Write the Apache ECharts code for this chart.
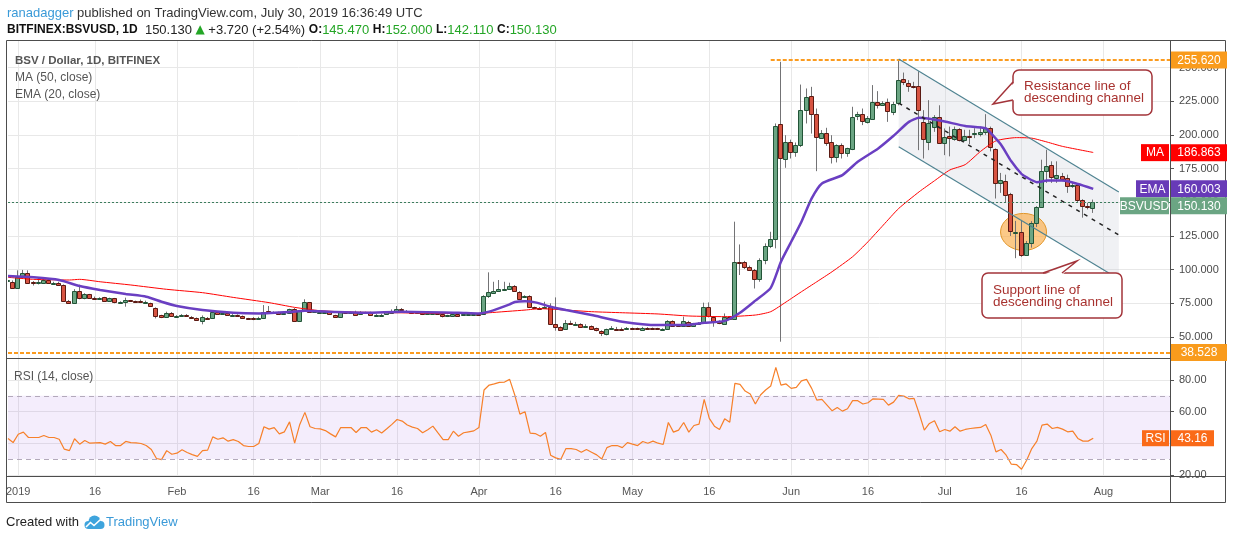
<!DOCTYPE html>
<html>
<head>
<meta charset="utf-8">
<title>BSV / Dollar, 1D, BITFINEX</title>
<script src="https://cdn.jsdelivr.net/npm/echarts/dist/echarts.min.js"></script>
<style>
  html, body { margin: 0; padding: 0; background: #fff; }
  #chart { width: 1234px; height: 540px; }
</style>
</head>
<body>
<div id="chart"></div>
<script>
const FONT = '"Liberation Sans", Arial, "DejaVu Sans", sans-serif';

// one category per day, 2018-12-30 .. 2019-08-14
const dates = [];
for (let t = Date.UTC(2018, 11, 30); t <= Date.UTC(2019, 7, 14); t += 86400000) {
  dates.push(new Date(t).toISOString().slice(0, 10));
}

const tickLabels = [
  ['2019-01-01', '2019'], ['2019-01-16', '16'], ['2019-02-01', 'Feb'], ['2019-02-16', '16'],
  ['2019-03-01', 'Mar'], ['2019-03-16', '16'], ['2019-04-01', 'Apr'], ['2019-04-16', '16'],
  ['2019-05-01', 'May'], ['2019-05-16', '16'], ['2019-06-01', 'Jun'], ['2019-06-16', '16'],
  ['2019-07-01', 'Jul'], ['2019-07-16', '16'], ['2019-08-01', 'Aug']
];

// daily candles from 2018-12-30 to 2019-07-30: [open, close, low, high]
const candles = [
  [91.8,92.6,91,93.5],[91,86.8,86.3,92],[86.8,94.8,86,99.5],[94.8,97.7,94,99.8],[97.7,90.6,90,99.5],
  [90.6,89.8,88.2,91.5],[89.8,90.5,89,94],[90.3,92.5,89.8,93],[92.3,89.8,89.5,93],[89.8,90.2,89,91],
  [90.3,88.6,88,91],[88.6,77,76.5,89],[77,75.7,75,77.5],[75.7,84.4,75.3,85.5],[83.9,78.7,78,88.8],
  [78.7,81.6,78,82.5],[81.6,78.7,78.2,82],[78.7,78.4,77.8,80],[78.4,79,78,79.5],[79.4,76.7,76.2,79.8],
  [76.7,78.7,76.2,79.2],[78.7,75.7,75,79],[75.7,76,75.3,76.5],[75.7,77.4,72.5,79.2],[77.2,76.5,76,77.5],
  [76.5,76.2,75.8,77],[76.5,75.5,75.2,77.8],[75.8,75.9,75.2,77],[75,73,72.5,75.5],[71.8,66.1,63.8,72],
  [66.1,64.6,64,66.5],[64.6,67.6,64.2,68.8],[67.6,65.4,65,68.5],[65.4,65.6,65,66.2],[65.6,66.6,65.2,67],
  [66.6,65.8,65.3,67],[65.1,64.3,64,65.5],[64.3,62.6,62,64.5],[62.1,64.8,59.4,66],[64.3,63.8,63.5,64.8],
  [63.8,68.5,63.5,69.5],[68.5,67.1,66.8,69],[67.3,67.6,67,68.2],[67.6,66.3,66,68],[66.3,66.6,66,67],
  [66.3,65.6,65.2,66.8],[65.6,63.9,63.5,66],[63.9,63.6,63.2,64.2],[64.2,63.1,62.5,64.8],[63.6,64.2,63.2,65],
  [64.3,68.8,64,73.7],[69.3,68.1,67.8,73],[68.1,68.5,67.8,69],[68.3,67.1,66.8,68.8],[67.1,67.5,67,68],
  [67.5,70.5,67.2,71],[70.8,62.1,61.5,71.5],[61.9,69.3,61.5,70],[69.8,75.7,69.5,78],[75.7,68.5,68,76],
  [68.5,69.3,68,70],[68.8,68.9,68.2,69.5],[68.5,68.6,68,69.2],[68.3,66.8,66.5,68.8],[66.1,64.8,64.5,66.5],
  [64.8,68.5,64.5,69],[68.5,68.2,67.8,69],[68.2,68.3,67.8,69],[68.3,66.3,66,69.5],[66.8,68.5,66.5,69.2],
  [68.5,68.2,67.8,68.8],[68.3,66.1,65.8,68.8],[66.3,66.6,66,67],[66.5,66.6,66.1,67.2],[67,68.5,66.5,69],
  [68.3,69.5,68,70.5],[69,70.7,68.5,73],[70.7,69.6,69,71.5],[69.6,68.5,68,70],[68.5,68.3,67.8,69],
  [68.3,68.6,67.9,69.2],[68.3,67.1,66.3,68.8],[67.2,67.8,66.9,68.3],[67.8,68,67.4,68.5],[68.3,66.8,66.5,68.6],
  [66.8,65.1,64.5,67],[65.1,66.1,64.8,66.5],[65.3,67,65,67.5],[67,65.8,65.5,67.3],[66.5,66.8,66.1,67.2],
  [66.8,67.1,66.5,67.6],[67.1,67.3,66.8,67.8],[67.1,66.8,66.5,67.5],[66.8,80.4,66.5,81],[80.4,83.1,79,98],
  [83.1,84.4,82,91],[84.4,85.6,83.5,92.3],[85.6,86,84.8,91],[85.6,87.8,85,90.3],[87.8,84.1,83.5,88.5],
  [83.6,78.7,78,84],[79.9,80.4,79.3,81],[80.4,72,71.5,81],[72,71.5,70.8,72.5],[71.8,71,70.5,72.3],
  [71,72,70.8,76.2],[72,59.6,59,75],[59.6,57.7,54.7,79.4],[57.7,55.7,55.2,58],[55.7,60.1,55.3,62.6],
  [60.1,59.6,59,62.1],[59.6,60,59.2,61.2],[59.4,57.2,56.8,60.2],[57.4,57.9,56.8,59.5],[58.1,56.2,55.8,58.6],
  [56.4,54.7,54.2,57],[54.4,52.7,50.7,55],[52.2,55.7,51.2,56.2],[55.7,56.4,55.2,58.1],[56.3,56.1,55.5,57.5],
  [56,55.9,55.5,57],[55.9,56.9,55.6,57.4],[56.8,56.5,56,57],[56.6,55.8,55.5,57],[55.8,57,55.5,57.5],
  [57,56.7,56.3,57.3],[56.7,56.3,56,57],[56.4,55.7,55.4,56.8],[55.7,56,55.4,56.5],[55.7,61.9,55.5,62.5],
  [61.9,58.1,57.7,62.4],[58.6,58.1,57.8,59],[58.1,61.9,57.7,65.1],[61.4,58.1,57.8,62],[58.1,60.1,57.5,60.5],
  [60.1,60.6,59.5,61],[60.6,72,60,75.5],[72,65.1,64.5,75.7],[65.1,61.9,57.6,65.5],[61.9,60.1,59.5,62.3],
  [60.1,65.1,59.8,67.5],[65.1,63.8,63.3,65.5],[63.8,105.9,63.5,135.6],[105.9,105.4,96,118.7],[105.4,101.7,100.5,106.5],
  [101.7,99.7,99,103],[99.7,92.8,86,100.5],[92.8,106.9,91,108.4],[106.9,117.5,104,119.5],[117.5,122.7,116,128.1],
  [122.7,206.5,115.8,208.5],[207.8,182.5,46.5,254.3],[182.5,194.9,175.6,199.8],[194.9,187.5,182.5,196.5],[187.5,192.4,183.8,194.4],
  [192.4,218.4,191,237.4],[218.4,228.3,208.5,234.5],[229,215.9,201,235.7],[215.2,197.9,173.1,219.6],[197.9,201.8,197.4,203.6],
  [201.8,194.4,191.9,205.3],[194.9,183.8,178.8,199.8],[183.8,192.4,179.6,193],[192.4,186.2,182.5,193.7],[186.2,190,183.8,190.5],
  [189.2,213,188.7,220.9],[213.5,215.2,211,217.2],[215.2,210.2,207.3,219.6],[209.7,212.7,208.5,214],[212.2,224.6,212,237],
  [224.6,222.6,219.6,232.5],[222.6,223.8,222,225],[224.6,217.7,209.7,227],[217.7,223.3,214.7,224.6],[223.3,240.7,222,256.2],
  [241.4,239.4,237,246.3],[238.2,236.2,232,240.7],[236.2,236,234.5,239.4],[236.4,218.4,188.7,247.3],[209.7,196.9,182.5,218.4],
  [195.4,209.2,188.7,225.8],[206,213.5,202.3,214.7],[213.5,194.4,193.7,222],[194.4,198.6,185,204.8],[198.9,197.2,184.1,206.2],
  [197.2,204.5,195.7,206.2],[204.5,196.4,195.2,205],[196.4,199.4,195.2,203.8],[199.4,199,193.2,203.8],[200.6,201.3,197.6,205],
  [201.3,202.5,198.9,206.2],[202.5,205.5,200.1,215.4],[205.5,191.5,187.8,206.2],[189.5,164.4,152.8,190],[164.4,166.9,157,171.8],
  [166.1,155.8,149.6,170.5],[155.8,128.2,125,157],[128.2,128.3,108.5,136.2],[128.2,111.4,109.5,136.2],[111.4,120.1,110.2,121.3],
  [120.1,134.8,116.3,136],[134.8,146.4,131.6,147.1],[146.4,173,145.9,181.6],[173,176.7,164.4,189],[177.5,168.6,164.4,180.4],
  [168.6,170.5,164.4,180.4],[169.3,166.9,165.6,171.8],[168.1,162.4,157,170.5],[162.4,163.1,160.7,164.4],[163.1,152.1,149.6,163.6],
  [151.6,147.1,138.6,152.3],[147.5,146.41,144.7,149.6],[145.47,150.13,142.11,152]
];

// RSI(14), one value per candle
const rsiValues = [
  43,40.4,45.7,47,43.6,43.6,43.6,44.9,43.6,43.6,
  42.5,36.2,35.3,42.8,39.4,41.7,40,40.2,40.4,39.4,
  41.1,38.5,38.5,41.1,40.4,40.2,39.8,38.5,36,30.3,
  29.6,35.3,33,33.7,35.8,34.1,32.8,31.7,35.3,35.6,
  44,42.5,43.4,41.3,42.3,41.1,38.5,37.9,37.9,39.8,
  50.4,48.9,49.9,45.9,47.2,53.5,40,51.9,59.5,50.4,
  49.3,49.1,48,45.9,44,49.9,49.9,49.9,46.8,49.9,
  49.9,47,48.5,46.4,49.1,51.9,55,54,51.5,50.2,
  49.3,46.6,48.5,50.8,46.5,42.3,42.3,47.6,44.4,46.6,
  47.2,47.8,50,73.7,76.8,77.5,78.5,78.7,80.4,70.5,
  58.4,59.9,46.4,46.1,44.4,46.8,32.4,30.7,29.8,36.6,
  36.6,36,34.3,36,34.3,32.6,30,37.2,38.5,38.5,
  37.2,40.4,39.4,38.5,41.1,40,41.3,40,39.2,53.1,
  47,48.3,53.1,47,51.2,52.1,67.7,55.7,50.8,48.7,
  55.4,53.3,77.9,77.2,73,71.1,64.8,70.5,73.7,76.2,
  88,76.8,77.5,74.7,75.3,79.4,80.4,74.7,67.3,67.7,
  64.1,60.5,62.6,60.3,61.8,66.9,66.9,64.8,65.6,68.1,
  67.9,67.7,64.1,66,70.3,69.8,68.1,68.4,58.8,48.3,
  52.5,54.2,47.2,48.7,47.6,50.4,47.6,48.7,49.3,49.7,
  50,51.9,45.1,34.5,36,32.4,26.7,26.5,23.5,29.2,
  36.6,41.3,51.4,52.1,49.3,50,48.9,47.2,47.6,43,
  41.3,41.3,43.16
];

// MA(50)
const ma50 = [
  ['2018-12-30',94.3],['2019-01-04',92.8],['2019-01-11',92.3],['2019-01-13',92.8],['2019-01-17',91.0],
  ['2019-01-23',88.6],['2019-01-30',85.4],['2019-02-06',82.9],['2019-02-12',79.4],['2019-02-19',75.5],
  ['2019-02-24',72.0],['2019-03-01',69.5],['2019-03-07',68.5],['2019-03-16',68.0],['2019-03-24',67.5],
  ['2019-04-01',67.5],['2019-04-03',68.0],['2019-04-10',70.0],['2019-04-13',71.0],['2019-04-16',70.5],
  ['2019-04-23',68.8],['2019-04-29',68.0],['2019-05-06',67.1],['2019-05-12',65.6],['2019-05-19',65.1],
  ['2019-05-25',66.3],['2019-05-28',68.8],['2019-05-31',76.0],['2019-06-03',83.6],['2019-06-06',91.0],
  ['2019-06-09',98.5],['2019-06-13',109.6],['2019-06-16',120.7],['2019-06-19',133.1],['2019-06-22',145.4],
  ['2019-06-26',157.8],['2019-06-29',166.0],['2019-07-02',174.0],['2019-07-05',178.0],['2019-07-08',187.8],
  ['2019-07-11',195.6],['2019-07-15',198.0],['2019-07-18',197.6],['2019-07-21',194.7],['2019-07-24',191.5],
  ['2019-07-30',187.0]
];

// EMA(20)
const ema20 = [
  ['2018-12-30',95.3],['2019-01-04',94.3],['2019-01-09',92.3],['2019-01-13',87.8],['2019-01-17',84.9],
  ['2019-01-22',81.9],['2019-01-26',79.9],['2019-01-29',76.2],['2019-02-01',73.0],['2019-02-06',70.0],
  ['2019-02-12',68.0],['2019-02-17',67.5],['2019-02-23',68.5],['2019-02-26',69.5],['2019-03-04',68.5],
  ['2019-03-10',68.0],['2019-03-17',68.8],['2019-03-28',68.0],['2019-04-01',67.5],['2019-04-03',68.8],
  ['2019-04-07',74.2],['2019-04-08',76.0],['2019-04-10',76.5],['2019-04-12',75.7],['2019-04-15',72.5],
  ['2019-04-18',70.0],['2019-04-23',66.3],['2019-04-29',61.4],['2019-05-06',58.9],['2019-05-11',58.9],
  ['2019-05-15',60.5],['2019-05-19',62.0],['2019-05-22',68.0],['2019-05-25',77.0],['2019-05-28',86.5],
  ['2019-05-30',105.9],['2019-06-01',120.7],['2019-06-03',135.6],['2019-06-05',152.9],['2019-06-07',164.0],
  ['2019-06-11',170.2],['2019-06-14',180.1],['2019-06-18',190.0],['2019-06-21',199.4],['2019-06-24',209.7],
  ['2019-06-26',212.7],['2019-06-28',212.0],['2019-07-01',209.9],['2019-07-05',206.7],['2019-07-09',205.0],
  ['2019-07-10',201.3],['2019-07-12',192.7],['2019-07-14',180.4],['2019-07-16',171.0],['2019-07-17',168.5],
  ['2019-07-19',164.9],['2019-07-21',166.1],['2019-07-24',166.1],['2019-07-27',163.6],['2019-07-30',160.0]
];

const lastClose = 150.13;
const lastMa = 186.863;
const lastEma = 160.003;
const lastRsi = 43.16;
const highLevel = 255.62;
const lowLevel = 38.528;
const highLevelFrom = '2019-05-28';

// drawn descending channel: [date, price]
const channelTop = [['2019-06-22', 256.3], ['2019-08-04', 157.6]];
const channelBottom = [['2019-06-22', 191.2], ['2019-08-04', 93.0]];
const channelMid = [['2019-06-22', 223.6], ['2019-08-04', 125.7]];
const bounceZone = ['2019-07-16', 128];

const tickMap = {};
tickLabels.forEach(([d, t]) => { tickMap[d] = t; });
const isTick = (i, v) => tickMap[v] !== undefined;
const idxOf = d => dates.indexOf(d);

const chart = echarts.init(document.getElementById('chart'));

function renderCandle(params, api) {
  const i = api.value(0);
  const o = api.value(1), c = api.value(2), l = api.value(3), h = api.value(4);
  const po = api.coord([i, o]), pc = api.coord([i, c]);
  const yl = api.coord([i, l])[1], yh = api.coord([i, h])[1];
  const x = Math.round(po[0]);
  const up = c >= o;
  const top = Math.round(Math.min(po[1], pc[1])) + 0.5;
  const bh = Math.max(Math.round(Math.abs(po[1] - pc[1])), 1);
  return {
    type: 'group',
    children: [
      { type: 'line', shape: { x1: x - 0.5, y1: yh, x2: x - 0.5, y2: yl }, style: { stroke: '#737375', lineWidth: 1 } },
      { type: 'rect', shape: { x: x - 2.5, y: top, width: 4, height: bh },
        style: { fill: up ? '#6ba583' : '#d75442', stroke: up ? '#225437' : '#5b1a13', lineWidth: 1 } }
    ]
  };
}

const pt = (api, [d, v]) => api.coord([idxOf(d), v]);

const xAxisBase = {
  type: 'category', data: dates, boundaryGap: false,
  axisLine: { show: false }, axisTick: { show: false },
  splitLine: { show: true, interval: isTick, lineStyle: { color: '#e8e8e8' } }
};

const option = {
  animation: false,
  textStyle: { fontFamily: FONT },
  grid: [
    { left: 8, right: 64, top: 40, height: 318 },
    { left: 8, right: 64, top: 358, height: 118 }
  ],
  xAxis: [
    Object.assign({ gridIndex: 0, axisLabel: { show: false } }, xAxisBase),
    Object.assign({ gridIndex: 1, axisLabel: { show: true, interval: isTick, formatter: v => tickMap[v] || '',
      color: '#555', fontSize: 11, margin: 10 } }, xAxisBase)
  ],
  yAxis: [
    { type: 'value', gridIndex: 0, position: 'right', min: 34.41, max: 270.47, minInterval: 25, maxInterval: 25,
      axisLine: { show: false }, axisTick: { show: true, length: 4, lineStyle: { color: '#555' } },
      axisLabel: { color: '#4a4a4a', fontSize: 11, margin: 9, formatter: v => v.toFixed(3), showMinLabel: false, showMaxLabel: false },
      splitLine: { lineStyle: { color: '#e8e8e8' } } },
    { type: 'value', gridIndex: 1, position: 'right', min: 19.24, max: 93.92, minInterval: 20, maxInterval: 20,
      axisLine: { show: false }, axisTick: { show: true, length: 4, lineStyle: { color: '#555' } },
      axisLabel: { color: '#4a4a4a', fontSize: 11, margin: 9, formatter: v => v.toFixed(2), showMinLabel: false, showMaxLabel: false },
      splitLine: { lineStyle: { color: '#e8e8e8' } } }
  ],
  series: [
    {
      type: 'custom', name: 'channel fill', xAxisIndex: 0, yAxisIndex: 0, z: 1, silent: true, clip: true,
      data: [[0, 0]],
      renderItem: (params, api) => {
        const c = pt(api, bounceZone);
        return {
          type: 'group',
          children: [
            { type: 'polygon', shape: { points: [pt(api, channelTop[0]), pt(api, channelTop[1]), pt(api, channelBottom[1]), pt(api, channelBottom[0])] },
              style: { fill: 'rgba(195,200,212,0.25)' } },
            { type: 'ellipse', shape: { cx: c[0] + 2, cy: c[1], rx: 23, ry: 18.5 },
              style: { fill: 'rgba(250,172,70,0.65)', stroke: '#e0962a', lineWidth: 1 } }
          ]
        };
      }
    },
    {
      type: 'custom', name: 'BSVUSD', xAxisIndex: 0, yAxisIndex: 0, z: 3, clip: true,
      encode: { x: 0, y: [1, 2, 3, 4] },
      data: candles.map((r, i) => [i, r[0], r[1], r[2], r[3]]),
      renderItem: renderCandle
    },
    {
      type: 'line', name: 'MA (50, close)', xAxisIndex: 0, yAxisIndex: 0, z: 4,
      data: ma50, smooth: 0.2, showSymbol: false, lineStyle: { color: '#ff0000', width: 1 },
      markLine: {
        silent: true, symbol: ['none', 'none'], label: { show: false },
        data: [
          [{ coord: [highLevelFrom, highLevel], lineStyle: { color: '#fb9b1f', width: 2, type: [4, 2] } },
           { coord: [dates[dates.length - 1], highLevel] }],
          { yAxis: lowLevel, lineStyle: { color: '#fb9b1f', width: 2, type: [4, 2] } },
          { yAxis: lastClose, lineStyle: { color: '#3d7d5e', width: 1, type: [2, 2] } }
        ]
      }
    },
    {
      type: 'line', name: 'EMA (20, close)', xAxisIndex: 0, yAxisIndex: 0, z: 4,
      data: ema20, smooth: 0.2, showSymbol: false, lineStyle: { color: '#6a3fc2', width: 2.5 }
    },
    {
      type: 'custom', name: 'channel lines', xAxisIndex: 0, yAxisIndex: 0, z: 5, silent: true, clip: true,
      data: [[0, 0]],
      renderItem: (params, api) => {
        const seg = (s, style) => {
          const a = pt(api, s[0]), b = pt(api, s[1]);
          return { type: 'line', shape: { x1: a[0], y1: a[1], x2: b[0], y2: b[1] }, style };
        };
        return {
          type: 'group',
          children: [
            seg(channelTop, { stroke: '#4f8391', lineWidth: 1.2 }),
            seg(channelBottom, { stroke: '#4f8391', lineWidth: 1.2 }),
            seg(channelMid, { stroke: '#222', lineWidth: 1.5, lineDash: [4, 5] })
          ]
        };
      }
    },
    {
      type: 'line', name: 'RSI (14, close)', xAxisIndex: 1, yAxisIndex: 1,
      data: rsiValues, showSymbol: false, lineStyle: { color: '#f7802a', width: 1.2 },
      markArea: { silent: true, itemStyle: { color: 'rgba(155,89,230,0.11)' }, data: [[{ yAxis: 30 }, { yAxis: 70 }]] },
      markLine: {
        silent: true, symbol: ['none', 'none'], label: { show: false },
        lineStyle: { color: '#b3a9bb', width: 1, type: [5, 4] },
        data: [{ yAxis: 30 }, { yAxis: 70 }]
      }
    }
  ]
};

chart.setOption(option);

// ---- overlay: frame, texts, axis tags, callouts
function txt(x, y, text, font, fill) {
  return { type: 'text', z: 56, style: { x, y, text, font, fill,
    textAlign: 'left', align: 'left', textVerticalAlign: 'middle', verticalAlign: 'middle' } };
}
function hline(y, x1, x2, color) {
  return { type: 'line', z: 40, shape: { x1, y1: y, x2, y2: y }, style: { stroke: color, lineWidth: 1 } };
}
function box(x, yc, w, h, fill, label) {
  return {
    type: 'group', z: 60,
    children: [
      { type: 'rect', z: 60, shape: { x, y: yc - h / 2, width: w, height: h }, style: { fill } },
      { type: 'text', z: 61, style: { x: x + w / 2, y: yc + 0.5, text: label, fill: '#fff', font: '12px ' + FONT,
        textAlign: 'center', align: 'center', textVerticalAlign: 'middle', verticalAlign: 'middle' } }
    ]
  };
}
// rounded note box with a pointer: pointer = [base1, tip, base2]
function callout(x, y, w, h, pointer, inset) {
  const stroke = '#a3343a';
  return {
    type: 'group', z: 55,
    children: [
      { type: 'rect', z: 55, shape: { x, y, width: w, height: h, r: 6 }, style: { fill: '#fff', stroke, lineWidth: 1.5 } },
      { type: 'polygon', z: 56, shape: { points: [[pointer[0][0] + inset[0], pointer[0][1] + inset[1]], pointer[1],
        [pointer[2][0] + inset[0], pointer[2][1] + inset[1]]] }, style: { fill: '#fff' } },
      { type: 'polyline', z: 57, shape: { points: pointer }, style: { fill: 'none', stroke, lineWidth: 1.5 } }
    ]
  };
}

const priceTags = [
  { v: highLevel, fill: '#f99b1c' },
  { v: lastMa, fill: '#ff0000', name: 'MA', nw: 28 },
  { v: lastEma, fill: '#673ab7', name: 'EMA', nw: 33 },
  { v: lastClose, fill: '#6ba583', name: 'BSVUSD', nw: 49 },
  { v: lowLevel, fill: '#f99b1c' }
].map(t => Object.assign(t, { y: chart.convertToPixel({ yAxisIndex: 0 }, t.v) }));
priceTags.sort((a, b) => a.y - b.y);
for (let k = 1; k < priceTags.length; k++) {
  if (priceTags[k].y - priceTags[k - 1].y < 17) priceTags[k].y = priceTags[k - 1].y + 17;
}
const rsiY = chart.convertToPixel({ yAxisIndex: 1 }, lastRsi);

const tagEls = [];
priceTags.forEach(t => {
  tagEls.push(box(1171, t.y, 56, 17, t.fill, t.v.toFixed(3)));
  if (t.name) tagEls.push(box(1169 - t.nw, t.y, t.nw, 17, t.fill, t.name));
});
tagEls.push(box(1171, rsiY, 43, 16, '#fa6a18', lastRsi.toFixed(2)));
tagEls.push(box(1142, rsiY, 27, 16, '#fa6a18', 'RSI'));

const noteFont = '13.5px ' + FONT;
const noteColor = '#a8322f';

const graphic = [
  // frame and pane separators
  { type: 'rect', z: 40, shape: { x: 6.5, y: 40.5, width: 1219, height: 462 }, style: { fill: 'none', stroke: '#4d4d4d', lineWidth: 1 } },
  hline(358.5, 6.5, 1225.5, '#4d4d4d'),
  hline(476.5, 6.5, 1225.5, '#4d4d4d'),
  { type: 'line', z: 40, shape: { x1: 1170.5, y1: 40.5, x2: 1170.5, y2: 502.5 }, style: { stroke: '#4d4d4d', lineWidth: 1 } },

  // header
  { type: 'text', z: 50, style: { x: 7, y: 13, textVerticalAlign: 'middle', verticalAlign: 'middle',
    text: '{u|ranadagger}{n| published on TradingView.com, July 30, 2019 16:36:49 UTC}',
    rich: { u: { fill: '#3a9ad8', fontSize: 13, fontFamily: FONT }, n: { fill: '#333', fontSize: 13, fontFamily: FONT } } } },
  { type: 'text', z: 50, style: { x: 7, y: 30, textVerticalAlign: 'middle', verticalAlign: 'middle',
    text: '{b|BITFINEX:BSVUSD, 1D}{n|  150.130 }{t|▲}{n| +3.720 (+2.54%) }{b|O:}{g|145.470 }{b|H:}{g|152.000 }{b|L:}{g|142.110 }{b|C:}{g|150.130}',
    rich: {
      b: { fill: '#111', fontSize: 12, fontWeight: 'bold', fontFamily: FONT },
      n: { fill: '#222', fontSize: 13, fontFamily: FONT },
      g: { fill: '#24a626', fontSize: 13, fontFamily: FONT },
      t: { fill: '#24a626', fontSize: 12, fontFamily: '"DejaVu Sans", sans-serif' }
    } } },

  // pane titles
  txt(15, 61, 'BSV / Dollar, 1D, BITFINEX', 'bold 11.5px ' + FONT, '#555'),
  txt(15, 78, 'MA (50, close)', '12px ' + FONT, '#555'),
  txt(15, 95, 'EMA (20, close)', '12px ' + FONT, '#555'),
  txt(14, 377, 'RSI (14, close)', '12px ' + FONT, '#555'),

  // callouts
  callout(1013, 70, 139, 45, [[1013, 82], [993, 104], [1013, 100]], [2, 0]),
  txt(1024, 86, 'Resistance line of', noteFont, noteColor),
  txt(1024, 98, 'descending channel', noteFont, noteColor),
  callout(982, 273, 140, 45, [[1043, 273], [1077, 261], [1062, 273]], [0, 2]),
  txt(993, 290, 'Support line of', noteFont, noteColor),
  txt(993, 302, 'descending channel', noteFont, noteColor),

  // footer
  txt(6, 522, 'Created with', '13px ' + FONT, '#222'),
  { type: 'circle', z: 50, shape: { cx: 88.5, cy: 525, r: 4 }, style: { fill: '#3ea4dd' } },
  { type: 'circle', z: 50, shape: { cx: 94.5, cy: 521.5, r: 6 }, style: { fill: '#3ea4dd' } },
  { type: 'circle', z: 50, shape: { cx: 100.5, cy: 525, r: 4 }, style: { fill: '#3ea4dd' } },
  { type: 'rect', z: 50, shape: { x: 88.5, y: 525, width: 12, height: 4 }, style: { fill: '#3ea4dd' } },
  { type: 'polyline', z: 51, shape: { points: [[86, 527], [90.5, 522.5], [94, 525.5], [100.5, 519.5]] },
    style: { stroke: '#fff', lineWidth: 1.6, fill: 'none' } },
  txt(106, 522, 'TradingView', '13px ' + FONT, '#3a9ad8')
].concat(tagEls);

chart.setOption({ graphic });
</script>
</body>
</html>
